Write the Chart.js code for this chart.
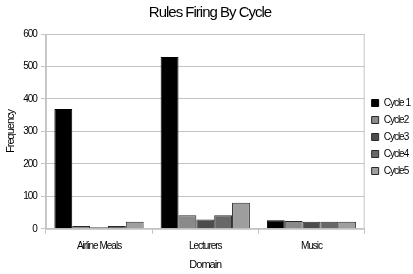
<!DOCTYPE html>
<html>
<head>
<meta charset="utf-8">
<script src="https://cdn.jsdelivr.net/npm/chart.js@4"></script>
<style>
  html, body { margin: 0; padding: 0; background: #fff; }
  #wrap { width: 413px; height: 274px; }
</style>
</head>
<body>
<div id="wrap"><canvas id="chart" width="413" height="274"></canvas></div>
<script>
const domains = ['Airline Meals', 'Lecturers', 'Music'];
const cycleNames = ['Cycle 1', 'Cycle2', 'Cycle3', 'Cycle4', 'Cycle5'];
const cycle1 = [369, 529, 26];
const cycle2 = [9, 42, 24];
const cycle3 = [5, 29, 22];
const cycle4 = [9, 42, 22];
const cycle5 = [22, 80, 22];
const cycleColors = ['#000000', '#8a8a8a', '#4c4c4c', '#686868', '#9e9e9e'];

const font = "'Liberation Sans', Arial, sans-serif";

// squeeze the text a bit, the original uses a very narrow face
const narrow = {
    id: 'narrow',
    beforeUpdate(chart) { chart.ctx.letterSpacing = '-1px'; },
    beforeDraw(chart) { chart.ctx.letterSpacing = '-1px'; }
};

const frame = {
    id: 'frame',
    beforeDatasetsDraw(chart) {
        const a = chart.chartArea;
        const c = chart.ctx;
        c.save();
        c.strokeStyle = '#c4c4c4';
        c.lineWidth = 1;
        c.strokeRect(a.left + 0.5, a.top + 0.5, a.right - a.left - 1, a.bottom - a.top);
        c.restore();
    }
};

document.addEventListener("DOMContentLoaded", () => {
    const ctx = document.getElementById('chart').getContext('2d');
    const series = [cycle1, cycle2, cycle3, cycle4, cycle5];
    new Chart(ctx, {
        type: 'bar',
        data: {
            labels: domains,
            datasets: series.map((d, i) => ({
                label: cycleNames[i],
                data: d,
                backgroundColor: cycleColors[i],
                borderColor: i === 0 ? '#000000' : '#2a2a2a',
                borderWidth: 1,
                barPercentage: 1,
                categoryPercentage: 0.84
            }))
        },
        options: {
            responsive: false,
            animation: false,
            layout: { padding: { left: 0, right: -7, top: 2, bottom: 2 } },
            plugins: {
                title: {
                    display: true,
                    text: 'Rules Firing By Cycle',
                    color: '#000',
                    font: { family: font, size: 15, weight: 'normal' },
                    padding: { top: 2, bottom: 12 }
                },
                legend: {
                    position: 'right',
                    labels: {
                        boxWidth: 7,
                        boxHeight: 7,
                        padding: 7,
                        color: '#000',
                        font: { family: font, size: 10 }
                    }
                },
                tooltip: { enabled: false }
            },
            scales: {
                x: {
                    grid: {
                        offset: true,
                        drawOnChartArea: false,
                        color: '#c4c4c4',
                        tickLength: 5
                    },
                    border: { color: '#c4c4c4' },
                    ticks: { color: '#000', font: { family: font, size: 10 }, padding: 6 },
                    title: {
                        display: true,
                        text: 'Domain',
                        color: '#000',
                        font: { family: font, size: 11 },
                        padding: { top: 1, bottom: 0 }
                    }
                },
                y: {
                    min: 0,
                    max: 600,
                    grid: { color: '#c4c4c4', tickLength: 5 },
                    border: { color: '#c4c4c4' },
                    ticks: {
                        stepSize: 100,
                        color: '#000',
                        font: { family: font, size: 10 },
                        padding: 4
                    },
                    title: {
                        display: true,
                        text: 'Frequency',
                        color: '#000',
                        font: { family: font, size: 11 },
                        padding: { bottom: 2 }
                    }
                }
            }
        },
        plugins: [narrow, frame]
    });
});
</script>
</body>
</html>
